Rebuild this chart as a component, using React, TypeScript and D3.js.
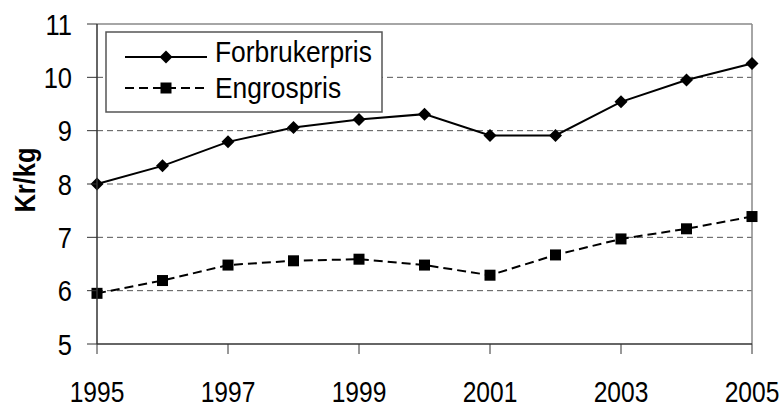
import React from 'react';
import * as d3 from 'd3';

const years = [1995, 1996, 1997, 1998, 1999, 2000, 2001, 2002, 2003, 2004, 2005];
const forbrukerpris = [8.0, 8.34, 8.79, 9.06, 9.21, 9.31, 8.91, 8.91, 9.54, 9.95, 10.26];
const engrospris = [5.95, 6.19, 6.48, 6.56, 6.59, 6.48, 6.29, 6.67, 6.97, 7.16, 7.39];
const xTicks = [1995, 1997, 1999, 2001, 2003, 2005];
const yTicks = [5, 6, 7, 8, 9, 10, 11];
const gridTicks = [6, 7, 8, 9, 10];
const seriesNames = ['Forbrukerpris', 'Engrospris'];
const yTitle = 'Kr/kg';

const width = 781;
const height = 410;
const left = 97;
const right = 752;
const top = 24;
const bottom = 344;
const font = '"Liberation Sans", Arial, sans-serif';

const diamond = 'M0,-6.5L6.5,0L0,6.5L-6.5,0Z';

const App = () => {
  const x = d3.scaleLinear().domain([1995, 2005]).range([left, right]);
  const y = d3.scaleLinear().domain([5, 11]).range([bottom, top]);

  const line = d3.line<number>()
    .x((d, i) => x(years[i]))
    .y(d => y(d));

  const legendX = 106;
  const legendY = 32;

  return (
    <svg width={width} height={height} style={{ position: 'absolute', left: 0, top: 0, background: '#fff' }}>
      {/* grid */}
      {gridTicks.map(t => (
        <line key={t} x1={left} x2={right} y1={y(t)} y2={y(t)} stroke="#555" strokeDasharray="6,4" strokeWidth={1} />
      ))}
      {/* plot border */}
      <line x1={left} x2={right} y1={top} y2={top} stroke="#888" strokeWidth={1.5} />
      <line x1={right} x2={right} y1={top} y2={bottom} stroke="#888" strokeWidth={1.5} />

      {/* lines */}
      <path d={line(engrospris) || ''} fill="none" stroke="#000" strokeWidth={2} strokeDasharray="9,5" />
      <path d={line(forbrukerpris) || ''} fill="none" stroke="#000" strokeWidth={2} />
      {forbrukerpris.map((v, i) => (
        <path key={'f' + i} d={diamond} transform={`translate(${x(years[i])},${y(v)})`} fill="#000" />
      ))}
      {engrospris.map((v, i) => (
        <rect key={'e' + i} x={x(years[i]) - 5.5} y={y(v) - 5.5} width={11} height={11} fill="#000" />
      ))}

      {/* axes */}
      <line x1={left} x2={left} y1={top} y2={bottom} stroke="#333" strokeWidth={1.5} />
      <line x1={left} x2={right} y1={bottom} y2={bottom} stroke="#333" strokeWidth={1.5} />
      {yTicks.map(t => (
        <g key={t}>
          <line x1={left - 10} x2={left} y1={y(t)} y2={y(t)} stroke="#333" strokeWidth={1} />
          <text transform={`translate(72,${y(t) + 10.5}) scale(0.85,1)`} textAnchor="end"
            fontFamily={font} fontSize={30} fill="#000">{t}</text>
        </g>
      ))}
      {xTicks.map(t => (
        <g key={t}>
          <line x1={x(t)} x2={x(t)} y1={bottom} y2={bottom + 10} stroke="#333" strokeWidth={1} />
          <text transform={`translate(${x(t)},402) scale(0.82,1)`} textAnchor="middle"
            fontFamily={font} fontSize={30} fill="#000">{t}</text>
        </g>
      ))}
      <text transform="translate(35,180) rotate(-90) scale(0.85,1)" textAnchor="middle"
        fontFamily={font} fontSize={30} fontWeight="bold" fill="#000">{yTitle}</text>

      {/* legend */}
      <rect x={legendX} y={legendY} width={276} height={80} fill="#fff" stroke="#555" strokeWidth={1.5} />
      <line x1={125} x2={207} y1={57} y2={57} stroke="#000" strokeWidth={2} />
      <path d={diamond} transform="translate(166,57)" fill="#000" />
      <line x1={125} x2={207} y1={88} y2={88} stroke="#000" strokeWidth={2} strokeDasharray="9,5" />
      <rect x={160.5} y={82.5} width={11} height={11} fill="#000" />
      <text transform="translate(215,61.7) scale(0.88,1)" fontFamily={font} fontSize={30} fill="#000">{seriesNames[0]}</text>
      <text transform="translate(215,97.7) scale(0.88,1)" fontFamily={font} fontSize={30} fill="#000">{seriesNames[1]}</text>
    </svg>
  );
};

export default App;
